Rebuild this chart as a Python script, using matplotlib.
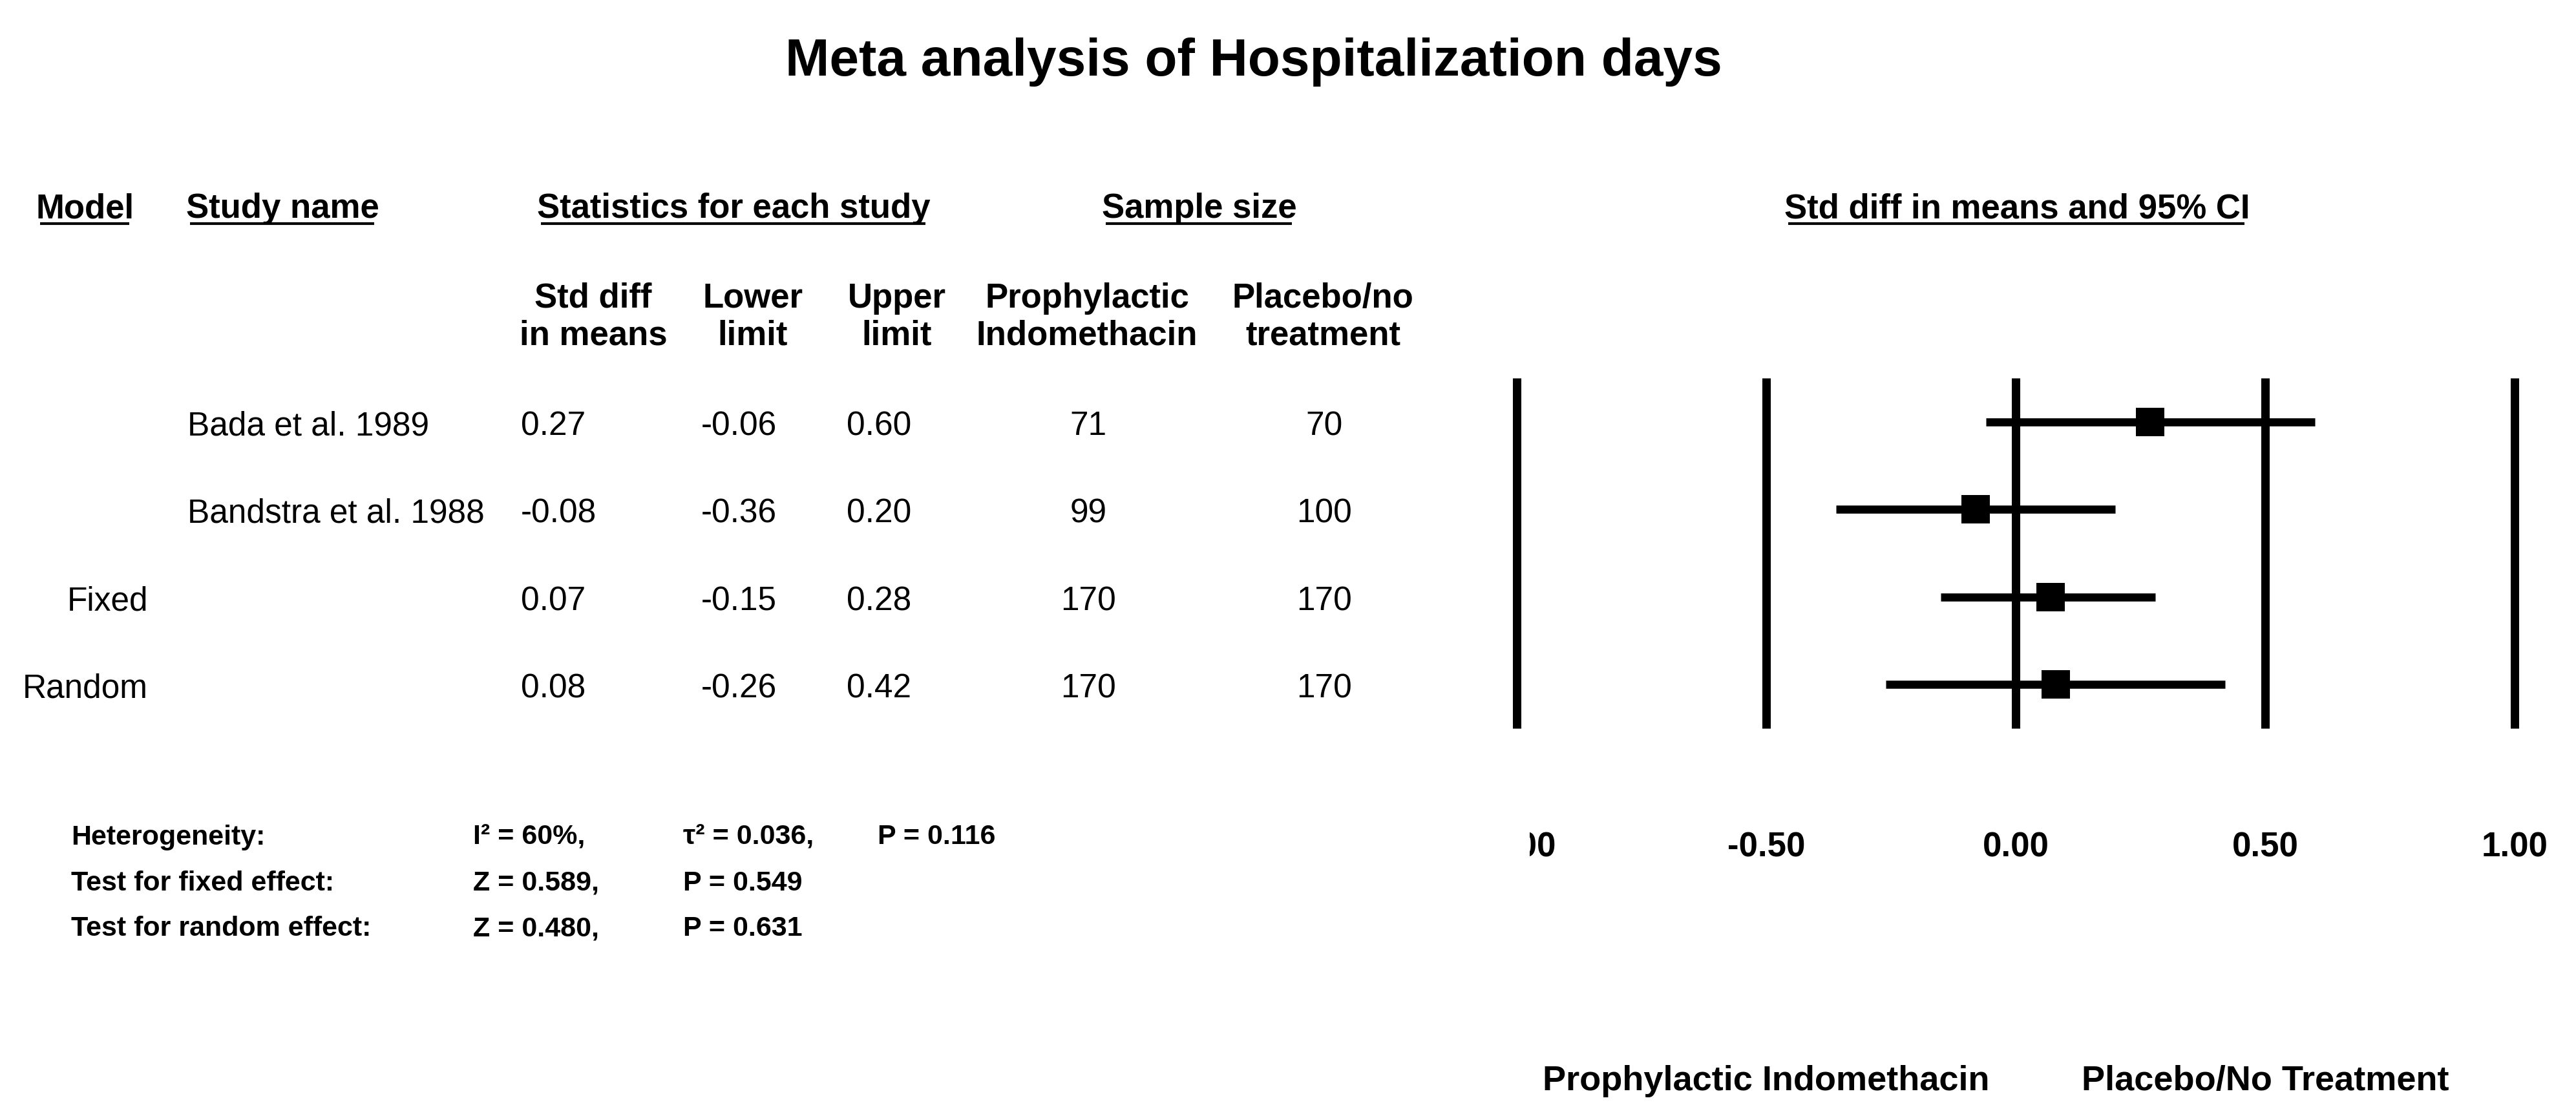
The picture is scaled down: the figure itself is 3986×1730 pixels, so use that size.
"""Forest plot: meta analysis of hospitalization days (std diff in means)."""

import matplotlib

matplotlib.use("Agg")

import matplotlib.pyplot as plt  # noqa: E402
from matplotlib.transforms import Bbox, TransformedBbox  # noqa: E402

plt.rcParams["font.family"] = ["Liberation Sans", "DejaVu Sans"]

# ---- data -------------------------------------------------------------
models = ["", "", "Fixed", "Random"]
studies = ["Bada et al. 1989", "Bandstra et al. 1988", "", ""]
std_diff = [0.27, -0.08, 0.07, 0.08]
lower = [-0.06, -0.36, -0.15, -0.26]
upper = [0.60, 0.20, 0.28, 0.42]
n_treat = [71, 99, 170, 170]
n_ctrl = [70, 100, 170, 170]

x_ticks = [-1.0, -0.5, 0.0, 0.5, 1.0]
x_labels = ["-1.00", "-0.50", "0.00", "0.50", "1.00"]
favours = ["Prophylactic Indomethacin", "Placebo/No Treatment"]

het_labels = ["Heterogeneity:", "Test for fixed effect:", "Test for random effect:"]
het_values = [
    ["I\u00b2 = 60%,", "\u03c4\u00b2 = 0.036,", "P = 0.116"],
    ["Z = 0.589,", "P = 0.549"],
    ["Z = 0.480,", "P = 0.631"],
]

# ---- layout (pixels) --------------------------------------------------
W, H, DPI = 3987, 1730, 100
fig = plt.figure(figsize=(W / DPI, H / DPI), dpi=DPI, facecolor="white")

canvas = fig.add_axes([0, 0, 1, 1])
canvas.set_xlim(0, W)
canvas.set_ylim(H, 0)
canvas.axis("off")

# forest axes: x=-1 at 2347px, x=1 at 3891px; rows span 585..1127px
fx0, fx1, fy0, fy1 = 2347, 3891, 585, 1127
forest = fig.add_axes([fx0 / W, 1 - fy1 / H, (fx1 - fx0) / W, (fy1 - fy0) / H])
forest.set_xlim(-1, 1)
forest.set_ylim(len(std_diff) - 0.5, -0.5)
forest.axis("off")

row_h = (fy1 - fy0) / len(std_diff)
row_y = [fy0 + row_h * (i + 0.5) + 2 for i in range(len(std_diff))]


def put(x, yc, s, size, bold=False, ha="left"):
    """Place text so its caps are visually centred on yc (pixels)."""
    em = size / 0.72
    return canvas.text(x, yc + 0.36 * em, s, fontsize=size, ha=ha, va="baseline",
                       fontweight="bold" if bold else "normal", color="black")


# title
put(1940, 88, "Meta analysis of Hospitalization days", 59, bold=True, ha="center")

# group headers, underlined
headers = [(56, "Model"), (288, "Study name"), (831, "Statistics for each study"),
           (1705, "Sample size"), (2761, "Std diff in means and 95% CI")]
head_txt = [put(x, 318, s, 38, bold=True) for x, s in headers]

# column sub headers
sub_cols = [(918, "Std diff", "in means"), (1165, "Lower", "limit"),
            (1388, "Upper", "limit"), (1682, "Prophylactic", "Indomethacin"),
            (2047, "Placebo/no", "treatment")]
for x, a, b in sub_cols:
    put(x, 457, a, 38, bold=True, ha="center")
    put(x, 515, b, 38, bold=True, ha="center")

# table rows
for i, y in enumerate(row_y):
    put(229, y, models[i], 37, ha="right")
    put(290, y, studies[i], 37)
    put(806, y, f"{std_diff[i]:.2f}", 37)
    put(1085, y, f"{lower[i]:.2f}", 37)
    put(1310, y, f"{upper[i]:.2f}", 37)
    put(1684, y, str(n_treat[i]), 37, ha="center")
    put(2049, y, str(n_ctrl[i]), 37, ha="center")

# heterogeneity block
het_y = [1291, 1362, 1433]
het_x = [732, 1057, 1358]
for y, lab, vals in zip(het_y, het_labels, het_values):
    put(110, y, lab, 31, bold=True)
    for x, v in zip(het_x, vals):
        put(x, y, v, 31, bold=True)

# ---- forest plot ------------------------------------------------------
rows = list(range(len(std_diff)))
forest.vlines(x_ticks, -0.5, len(std_diff) - 0.5, colors="black",
              linewidth=9.4, capstyle="butt", clip_on=False)
forest.hlines(rows, lower, upper, colors="black", linewidth=9,
              capstyle="butt", clip_on=False)
forest.plot(std_diff, rows, linestyle="none", marker="s", markersize=31,
            markerfacecolor="black", markeredgewidth=0, clip_on=False)

# tick labels (left one is cut off in the original)
clip = TransformedBbox(Bbox.from_extents(2367 / W, 0, 1, 1), fig.transFigure)
tick_y = -(1306 - fy1) / (fy1 - fy0)
for t, lab in zip(x_ticks, x_labels):
    txt = fig.text(t, tick_y, lab, transform=forest.get_xaxis_transform(),
                   fontsize=38, fontweight="bold", ha="center", va="center_baseline")
    txt.set_clip_on(True)
    txt.set_clip_box(clip)

fav_y = -(1667 - fy1) / (fy1 - fy0)
for t, lab in zip([-0.5, 0.5], favours):
    forest.text(t, fav_y, lab, transform=forest.get_xaxis_transform(),
                fontsize=39, fontweight="bold", ha="center", va="center_baseline",
                clip_on=False)

# underline the group headers
fig.canvas.draw()
renderer = fig.canvas.get_renderer()
for txt in head_txt:
    bb = txt.get_window_extent(renderer)
    canvas.plot([bb.x0 + 6, bb.x1 - 8], [346, 346], color="black",
                linewidth=3, solid_capstyle="butt")

fig.savefig("out.png", dpi=DPI, facecolor="white")
plt.close(fig)
